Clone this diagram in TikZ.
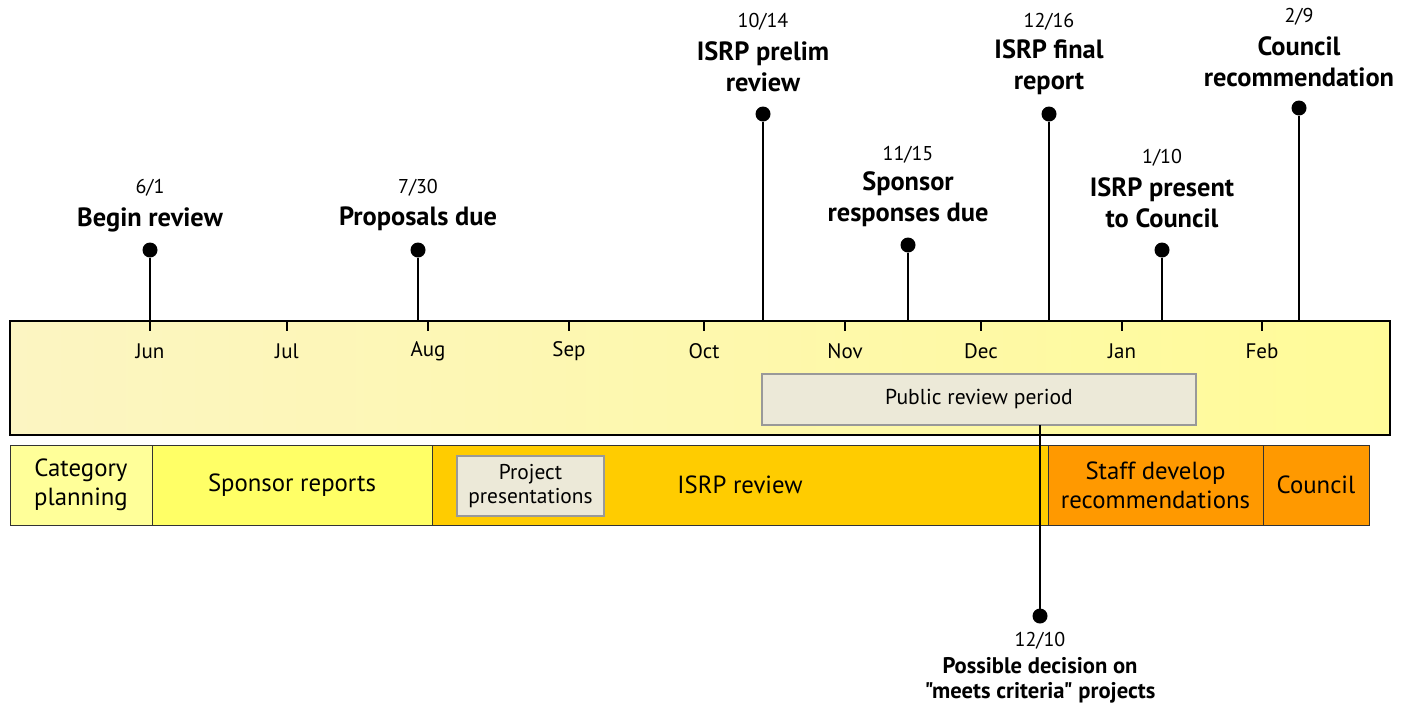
\documentclass[tikz,border=0pt]{standalone}
\usepackage{fontspec}
\setmainfont{PT Sans}[Ligatures=TeXOff]
\definecolor{bandl}{HTML}{FCF5C2}
\definecolor{bandr}{HTML}{FFFB99}
\definecolor{catcol}{HTML}{FFFF99}
\definecolor{sponcol}{HTML}{FFFF66}
\definecolor{isrpcol}{HTML}{FFCC00}
\definecolor{staffcol}{HTML}{FF9900}
\definecolor{boxgrey}{HTML}{ECE9D8}
\begin{document}
\begin{tikzpicture}[
    x=0.5pt,
    y=-0.5pt,
    every node/.style={outer sep=0pt, inner sep=0pt, align=center},
    dot/.style={circle, fill=black, minimum size=7.5pt},
    stem/.style={line width=0.7pt},
    datelabel/.style={font=\fontsize{10}{12}\selectfont},
    eventlabel/.style={font=\bfseries\fontsize{13.2}{15.5}\selectfont},
    monthlabel/.style={font=\fontsize{10.5}{12}\selectfont},
    phase/.style={draw=black!80, line width=0.5pt, minimum height=40pt,
                  font=\fontsize{12.4}{14.5}\selectfont},
    greybox/.style={draw=black!40, line width=0.6pt, fill=boxgrey}]

    \useasboundingbox (0,0) rectangle (1403,708);

    % Timeline band
    \node[draw, line width=0.9pt, left color=bandl, right color=bandr,
          minimum width=690pt, minimum height=57pt] (band) at (700,378) {};

    % Months
    \foreach \m/\x in {Jun/150,Jul/287,Aug/428,Sep/569,Oct/704,
                       Nov/845,Dec/981,Jan/1122,Feb/1262} {
      \draw[line width=0.6pt] (\x,321) -- (\x,331);
      \node[monthlabel] (\m) at (\x,351) {\m};
    }

    % Public review period
    \node[greybox, minimum width=217pt, minimum height=25.5pt,
          font=\fontsize{10.8}{12}\selectfont] (review) at (979,399.5)
          {Public review period};

    % Phases
    \foreach \n/\a/\b/\col/\txt in {
        1/10/152/catcol/{Category\\planning},
        2/152/432/sponcol/{Sponsor reports},
        3/432/1048/isrpcol/{ISRP review},
        4/1048/1263/staffcol/{Staff develop\\recommendations},
        5/1263/1369/staffcol/{Council}} {
      \pgfmathsetmacro\w{(\b-\a)/2}
      \pgfmathsetmacro\c{(\a+\b)/2}
      \node[phase, fill=\col, minimum width=\w pt] (p\n) at (\c,485) {\txt};
    }

    \node[greybox, minimum width=73.5pt, minimum height=30pt,
          font=\fontsize{10.7}{12}\selectfont] (pres) at (530.5,486)
          {Project\\presentations};

    % Milestones
    \foreach \n/\x/\yp/\yd/\yt/\mo/\dy/\txt in {
        1/150/250/188/220/6/1/{Begin review},
        2/418/250/188/219/7/30/{Proposals due},
        3/763/114/22/67/10/14/{ISRP prelim\\review},
        4/908/245/155/199/11/15/{Sponsor\\responses due},
        5/1049/114/22/67/12/16/{ISRP final\\report},
        6/1162/250/158/203/1/10/{ISRP present\\to Council},
        7/1299/108/17/62/2/9/{Council\\recommendation}} {

      % Dot and stem
      \node[dot] (e\n) at (\x,\yp) {};
      \draw[stem] (e\n) -- (e\n |- band.north);

      % Labels
      \node[datelabel] (d\n) at (\x,\yd) {\mo/\dy};
      \node[eventlabel] (t\n) at (\x,\yt) {\txt};
    }

    % Decision below the bars
    \node[dot] (e8) at (1040,616) {};
    \draw[stem] (e8) -- (e8 |- review.south);
    \node[datelabel] (d8) at (1040,641) {12/10};
    \node[font=\bfseries\fontsize{11.3}{12.5}\selectfont] (t8) at (1040,680)
         {Possible decision on\\"meets criteria" projects};
  \end{tikzpicture}
\end{document}
